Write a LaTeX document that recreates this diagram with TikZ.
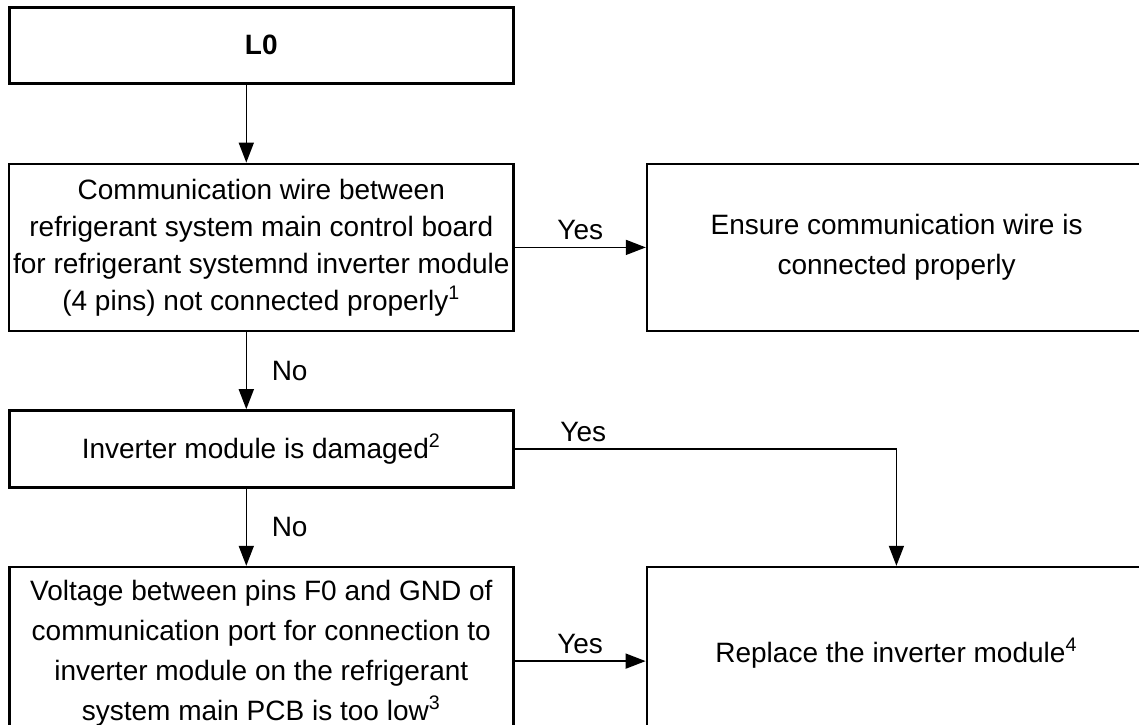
\documentclass[tikz,border=0pt]{standalone}
\usepackage{fontspec}
\setmainfont{Liberation Sans}
\usetikzlibrary{arrows.meta,positioning}

\begin{document}
\begin{tikzpicture}[
    >={Triangle[length=10pt,width=7.5pt]},
    box/.style={draw, line width=1.3pt, minimum width=#1, align=center,
                font=\fontsize{14pt}{20pt}\selectfont, inner sep=2pt},
    box/.default=252pt,
    lbl/.style={font=\fontsize{14pt}{20pt}\selectfont},
    arr/.style={->, line width=0.8pt},
  ]
  \clip (0,0) rectangle (569.5pt,-362pt);

  % fault code
  \node[box, minimum height=38pt, anchor=north west,
        font=\fontsize{14pt}{20pt}\selectfont\bfseries] (l0) at (4pt,-3pt) {L0};

  % checks, top to bottom
  \node[box, minimum height=83.5pt, below=39pt of l0,
        font=\fontsize{14pt}{18.5pt}\selectfont] (wire)
    {Communication wire between\\
     refrigerant system main control board\\
     for refrigerant systemnd inverter module\\
     (4 pins) not connected properly\textsuperscript{1}};

  \node[box, minimum height=38.5pt, below=38.5pt of wire] (damaged)
    {Inverter module is damaged\textsuperscript{2}};

  \node[box, minimum height=86pt, below=38.5pt of damaged] (voltage)
    {Voltage between pins F0 and GND of\\
     communication port for connection to\\
     inverter module on the refrigerant\\
     system main PCB is too low\textsuperscript{3}};

  % remedies
  \node[box=249.5pt, minimum height=83.5pt, right=65.5pt of wire] (ensure)
    {Ensure communication wire is\\connected properly};

  \node[box=249.5pt, minimum height=86pt, right=65.5pt of voltage] (replace)
    {Replace the inverter module\textsuperscript{4}};

  \draw[arr] ([xshift=-7.5pt]l0.south) -- ([xshift=-7.5pt]wire.north);
  \draw[arr] (wire) -- node[lbl, above] {Yes} (ensure);
  \draw[arr] ([xshift=-7.5pt]wire.south) --
    node[lbl, right=9pt] {No} ([xshift=-7.5pt]damaged.north);
  \draw[arr] (damaged.east) -| node[lbl, above, pos=0.09] {Yes} (replace.north);
  \draw[arr] ([xshift=-7.5pt]damaged.south) --
    node[lbl, right=9pt] {No} ([xshift=-7.5pt]voltage.north);
  \draw[arr] ([yshift=-4pt]voltage.east) --
    node[lbl, above] {Yes} ([yshift=-4pt]replace.west);
\end{tikzpicture}
\end{document}
